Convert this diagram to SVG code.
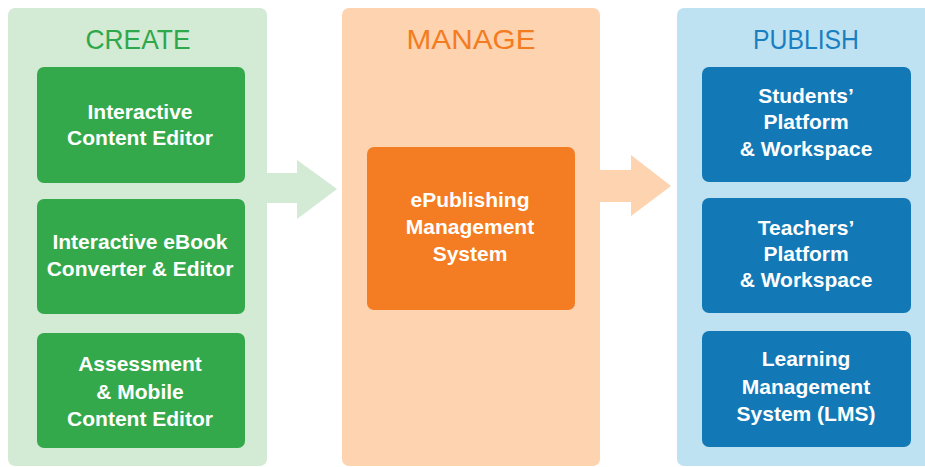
<svg xmlns="http://www.w3.org/2000/svg" width="925" height="467" viewBox="0 0 925 467">
<style>
.title{font-family:"Liberation Sans",Arial,sans-serif;font-size:28px;text-anchor:middle}
.lbl{font-family:"Liberation Sans",Arial,sans-serif;font-size:21px;font-weight:bold;fill:#ffffff;text-anchor:middle}
</style>
<rect width="925" height="467" fill="#ffffff"/>
<g id="connectors">
<polygon points="266,173 297,173 297,160 337,189 297,219 297,203 266,203" fill="#d3ead5"/>
<polygon points="599,170 631,170 631,155 671,186 631,216 631,202 599,202" fill="#fdd3b0"/>
</g>
<g id="create">
<rect x="8" y="8" width="259" height="458" rx="7" fill="#d3ead5"/>
<text class="title" x="138" y="49" fill="#2ea84a" textLength="105" lengthAdjust="spacingAndGlyphs">CREATE</text>
</g>
<g id="interactive-content-editor">
<rect x="37" y="67" width="208" height="116" rx="7" fill="#34a94c"/>
<text class="lbl" x="140"><tspan x="140" y="119">Interactive</tspan><tspan x="140" y="145">Content Editor</tspan></text>
</g>
<g id="interactive-ebook-converter">
<rect x="37" y="199" width="208" height="115" rx="7" fill="#34a94c"/>
<text class="lbl" x="140"><tspan x="140" y="249">Interactive eBook</tspan><tspan x="140" y="276">Converter &amp; Editor</tspan></text>
</g>
<g id="assessment-mobile-editor">
<rect x="37" y="333" width="208" height="115" rx="7" fill="#34a94c"/>
<text class="lbl" x="140"><tspan x="140" y="371">Assessment</tspan><tspan x="140" y="399">&amp; Mobile</tspan><tspan x="140" y="426">Content Editor</tspan></text>
</g>
<g id="manage">
<rect x="342" y="8" width="258" height="458" rx="7" fill="#fdd3b0"/>
<text class="title" x="471" y="49" fill="#f47c20" textLength="129" lengthAdjust="spacingAndGlyphs">MANAGE</text>
</g>
<g id="epublishing-management-system">
<rect x="367" y="147" width="208" height="163" rx="7" fill="#f47c22"/>
<text class="lbl" x="470"><tspan x="470" y="207">ePublishing</tspan><tspan x="470" y="234">Management</tspan><tspan x="470" y="261">System</tspan></text>
</g>
<g id="publish">
<rect x="677" y="8" width="260" height="458" rx="7" fill="#bfe2f3"/>
<text class="title" x="806" y="49" fill="#1a7fc0" textLength="106" lengthAdjust="spacingAndGlyphs">PUBLISH</text>
</g>
<g id="students-platform">
<rect x="702" y="67" width="209" height="115" rx="7" fill="#1279b6"/>
<text class="lbl" x="806"><tspan x="806" y="103">Students’</tspan><tspan x="806" y="129">Platform</tspan><tspan x="806" y="156">&amp; Workspace</tspan></text>
</g>
<g id="teachers-platform">
<rect x="702" y="198" width="209" height="115" rx="7" fill="#1279b6"/>
<text class="lbl" x="806"><tspan x="806" y="235">Teachers’</tspan><tspan x="806" y="261">Platform</tspan><tspan x="806" y="287">&amp; Workspace</tspan></text>
</g>
<g id="lms">
<rect x="702" y="331" width="209" height="116" rx="7" fill="#1279b6"/>
<text class="lbl" x="806"><tspan x="806" y="366">Learning</tspan><tspan x="806" y="394">Management</tspan><tspan x="806" y="421">System (LMS)</tspan></text>
</g>
</svg>
